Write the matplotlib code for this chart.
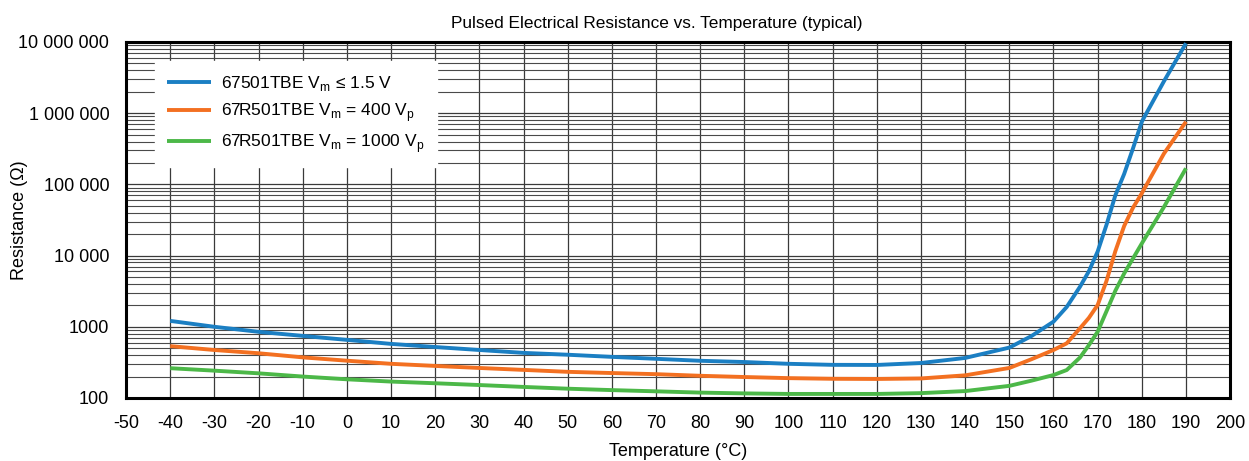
import numpy as np
import matplotlib
matplotlib.use("Agg")
import matplotlib.pyplot as plt
from matplotlib.ticker import FixedLocator, LogLocator, NullFormatter

plt.rcParams['font.family'] = ['Liberation Sans', 'DejaVu Sans']

# -----------------------------
# Data (temperature in degC, resistance in ohm)
# -----------------------------
temp = [-40, -30, -20, -10, 0, 10, 20, 30, 40, 50, 60, 70, 80, 90, 100,
        110, 120, 130, 140, 150, 155, 160, 163, 166, 168, 170, 172, 174,
        176, 178, 180, 185, 190]

r_67501 = [1210, 1000, 850, 745, 655, 575, 520, 472, 430, 405, 378, 355,
           333, 320, 302, 292, 291, 310, 365, 510, 740, 1180, 1900, 3650,
           6000, 11400, 27000, 70000, 140000, 320000, 760000, 2800000,
           9600000]

r_67r501_400 = [535, 472, 425, 372, 334, 302, 282, 264, 248, 233, 224, 216,
                205, 197, 190, 186, 185, 188, 208, 264, 350, 472, 586, 953,
                1330, 2020, 4400, 11500, 26000, 47000, 75000, 270000,
                760000]

r_67r501_1000 = [262, 242, 222, 200, 183, 170, 161, 152, 143, 135, 129, 124,
                 119, 116, 114, 114, 114, 117, 125, 148, 175, 210, 247, 370,
                 550, 853, 1650, 3200, 5600, 9100, 14800, 48000, 168000]

labels = [r"67501TBE V$_\mathregular{m}$ ≤ 1.5 V",
          r"67R501TBE V$_\mathregular{m}$ = 400 V$_\mathregular{p}$",
          r"67R501TBE V$_\mathregular{m}$ = 1000 V$_\mathregular{p}$"]
colors = ["#1b7fc3", "#f37021", "#4cb848"]

y_ticks = [100, 1000, 10000, 100000, 1000000, 10000000]
y_ticklabels = ["100", "1000", "10 000", "100 000", "1 000 000", "10 000 000"]
x_ticks = list(range(-50, 201, 10))

# -----------------------------
# Figure
# -----------------------------
fig = plt.figure(figsize=(12.49, 4.61), dpi=100)
ax = fig.add_axes([0.1009, 0.1367, 0.8840, 0.7722])

for r, lab, col in zip([r_67501, r_67r501_400, r_67r501_1000], labels, colors):
    ax.plot(temp, r, color=col, lw=2.8, label=lab, zorder=5,
            solid_capstyle='butt', solid_joinstyle='round')

ax.set_yscale('log')
ax.set_xlim(-50, 200)
ax.set_ylim(100, 1e7)

ax.xaxis.set_major_locator(FixedLocator(x_ticks))
ax.set_xticklabels([str(t) for t in x_ticks])
ax.yaxis.set_major_locator(FixedLocator(y_ticks))
ax.set_yticklabels(y_ticklabels)
ax.yaxis.set_minor_locator(LogLocator(base=10, subs=np.arange(2, 10)))
ax.yaxis.set_minor_formatter(NullFormatter())

ax.tick_params(axis='both', which='both', length=0, labelsize=13)
ax.tick_params(axis='y', pad=12)
ax.tick_params(axis='x', pad=12.5)

# grid
ax.grid(True, which='major', axis='both', color='#3a3a3a', lw=0.9, zorder=1)
ax.grid(True, which='minor', axis='y', color='#4a4a4a', lw=0.8, zorder=1)

for sp in ax.spines.values():
    sp.set_linewidth(2.2)
    sp.set_color('black')

ax.set_title("Pulsed Electrical Resistance vs. Temperature (typical)",
             fontsize=12.4, pad=10, x=0.481)
ax.set_xlabel("Temperature (°C)", fontsize=13, labelpad=8)
ax.set_ylabel("Resistance (Ω)", fontsize=13)
ax.yaxis.set_label_coords(-0.0887, 0.5)

leg = ax.legend(loc='upper left', bbox_to_anchor=(0.026, 0.946),
                fontsize=12.5, frameon=True, fancybox=False, handlelength=2.5,
                handletextpad=0.6, labelspacing=0.47, borderpad=0.72,
                borderaxespad=0)
leg.get_frame().set_edgecolor('white')
leg.get_frame().set_facecolor('white')
leg.get_frame().set_alpha(1.0)
leg.set_zorder(10)

fig.savefig("out.png", dpi=100)
